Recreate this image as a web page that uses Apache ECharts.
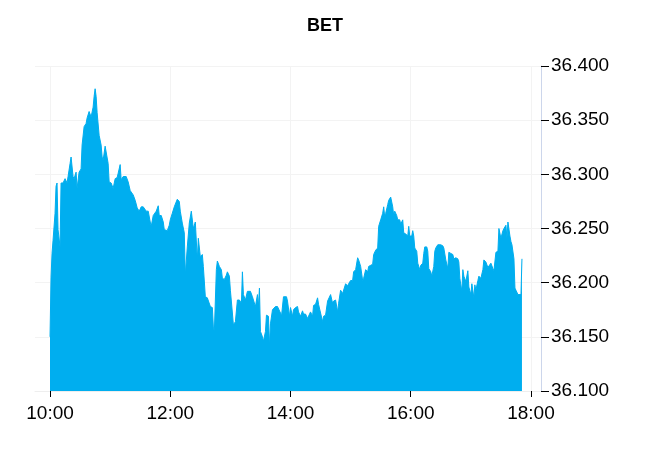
<!DOCTYPE html>
<html>
<head>
<meta charset="utf-8">
<script src="https://cdn.jsdelivr.net/npm/echarts@6/dist/echarts.min.js"></script>
<style>html,body{margin:0;padding:0;background:#fff}#c{width:650px;height:450px}</style>
</head>
<body>
<div id="c"></div>
<script>
// minutes after 10:00
var minutes = [0,1,2,3,5,6,7,8,10,11,13,15,17,18,20,21,23,24,26,27,29,31,32,34,36,37,39,41,43,44,45,46,47,49,51,52,53,55,56,58,59,61,63,65,67,68,70,71,73,76,78,80,83,85,87,89,91,93,96,98,100,101,103,104,106,108,109,111,113,114,117,119,120,122,124,127,129,130,132,134,135,137,139,141,142,143,145,147,148,150,152,153,155,157,158,160,162,163,164,166,167,169,171,172,174,176,177,179,180,182,183,185,187,189,191,192,193,195,197,198,200,202,203,205,207,208,209,210,212,213,215,216,218,219,220,222,223,225,227,228,230,231,233,234,236,237,239,240,242,243,245,247,248,250,252,253,255,257,258,260,262,263,265,267,268,270,272,273,275,277,278,280,282,283,285,287,288,290,292,293,295,297,298,300,302,303,305,307,308,310,312,313,315,317,318,320,322,323,325,327,328,330,332,333,334,335,337,338,340,341,342,343,344,346,347,349,350,352,353,355,357,358,359,361,362,363,364,366,367,369,370,372,373,374,376,377,378,380,381,383,384,385,387,388,390,392,393,395,397,398,400,402,403,405,407,408,409,411,412,413,415,417,418,420,421,423,424,425,427,428,430,432,433,435,437,438,440,442,443,445,447,448,450,452,453,455,456,457,459,460,461,463,464,465,467,468,470,471];
var values = [36.150,36.205,36.227,36.239,36.264,36.289,36.292,36.249,36.233,36.292,36.292,36.296,36.292,36.298,36.310,36.316,36.298,36.296,36.302,36.287,36.302,36.305,36.327,36.344,36.347,36.352,36.358,36.353,36.362,36.372,36.379,36.372,36.357,36.336,36.327,36.316,36.313,36.326,36.326,36.310,36.293,36.292,36.287,36.296,36.297,36.301,36.309,36.295,36.298,36.298,36.293,36.285,36.281,36.276,36.269,36.266,36.270,36.270,36.266,36.266,36.256,36.252,36.262,36.262,36.266,36.271,36.262,36.262,36.256,36.249,36.248,36.253,36.258,36.264,36.270,36.277,36.275,36.266,36.255,36.246,36.207,36.233,36.255,36.266,36.265,36.250,36.256,36.221,36.241,36.224,36.226,36.215,36.187,36.186,36.186,36.178,36.177,36.159,36.155,36.212,36.220,36.215,36.212,36.204,36.203,36.207,36.210,36.206,36.193,36.172,36.161,36.164,36.184,36.184,36.181,36.210,36.189,36.184,36.192,36.193,36.192,36.187,36.184,36.178,36.189,36.178,36.195,36.155,36.150,36.146,36.155,36.170,36.169,36.141,36.162,36.175,36.175,36.178,36.178,36.177,36.172,36.169,36.187,36.186,36.187,36.183,36.169,36.177,36.169,36.175,36.177,36.178,36.173,36.169,36.174,36.171,36.171,36.167,36.166,36.173,36.169,36.179,36.180,36.186,36.180,36.172,36.164,36.169,36.170,36.183,36.183,36.189,36.181,36.183,36.184,36.173,36.181,36.193,36.190,36.190,36.199,36.197,36.199,36.202,36.202,36.210,36.212,36.223,36.221,36.215,36.202,36.204,36.212,36.210,36.215,36.216,36.217,36.226,36.230,36.232,36.252,36.258,36.264,36.270,36.261,36.264,36.272,36.276,36.279,36.279,36.270,36.262,36.266,36.262,36.258,36.258,36.254,36.258,36.246,36.245,36.243,36.252,36.243,36.243,36.248,36.243,36.232,36.229,36.218,36.212,36.216,36.218,36.227,36.233,36.233,36.229,36.213,36.210,36.206,36.215,36.229,36.232,36.235,36.235,36.235,36.234,36.232,36.221,36.213,36.228,36.227,36.226,36.222,36.223,36.222,36.219,36.204,36.192,36.212,36.206,36.201,36.211,36.196,36.189,36.199,36.186,36.198,36.193,36.202,36.206,36.204,36.212,36.221,36.219,36.214,36.214,36.218,36.213,36.211,36.228,36.229,36.250,36.241,36.248,36.250,36.253,36.241,36.256,36.243,36.238,36.235,36.222,36.195,36.193,36.189,36.189,36.189,36.222];
var xTickLabels = ['10:00','12:00','14:00','16:00','18:00'];
var yTicks = [36.100,36.150,36.200,36.250,36.300,36.350,36.400];

function toMin(s) { var p = s.split(':'); return +p[0] * 60 + +p[1]; }
function fmt(v) { var h = Math.floor(v / 60), m = Math.round(v % 60); return (h < 10 ? '0' : '') + h + ':' + (m < 10 ? '0' : '') + m; }
var tickValues = xTickLabels.map(toMin);
var start = toMin('10:00');
var data = minutes.map(function (m, i) { return [start + m, values[i]]; });

var font = 'Liberation Sans, Arial, sans-serif';
var chart = echarts.init(document.getElementById('c'), null, { renderer: 'canvas' });
chart.setOption({
  animation: false,
  backgroundColor: '#ffffff',
  title: {
    text: 'BET', left: 'center', top: 12,
    textStyle: { fontFamily: font, fontSize: 18, fontWeight: 'bold', color: '#000' }
  },
  grid: { left: 35, right: 109, top: 66, bottom: 59 },
  xAxis: {
    type: 'value',
    min: toMin('09:45'), max: toMin('18:10'),
    axisLine: { show: true, lineStyle: { color: '#eeeeee', width: 1 } },
    axisTick: { show: true, length: 6, customValues: tickValues, lineStyle: { color: '#000' } },
    splitLine: { show: true, lineStyle: { color: '#f3f3f3', width: 1 } },
    axisLabel: {
      margin: 13, fontSize: 19, color: '#000', fontFamily: font,
      customValues: tickValues,
      formatter: function (v) { return fmt(v); }
    }
  },
  yAxis: {
    type: 'value', position: 'right',
    min: yTicks[0], max: yTicks[yTicks.length - 1], interval: 0.05,
    axisLine: { show: true, lineStyle: { color: '#ccd6eb', width: 1 } },
    axisTick: { show: true, length: 8, lineStyle: { color: '#000' } },
    splitLine: { show: true, lineStyle: { color: '#f3f3f3', width: 1 } },
    axisLabel: {
      margin: 10, fontSize: 19, color: '#000', fontFamily: font,
      formatter: function (v) { return v.toFixed(3); }
    }
  },
  series: [{
    type: 'line',
    data: data,
    showSymbol: false,
    symbol: 'none',
    lineStyle: { color: '#00aeef', width: 1 },
    itemStyle: { color: '#00aeef' },
    areaStyle: { color: '#00aeef', opacity: 1, origin: 'start' }
  }]
});
</script>
</body>
</html>
